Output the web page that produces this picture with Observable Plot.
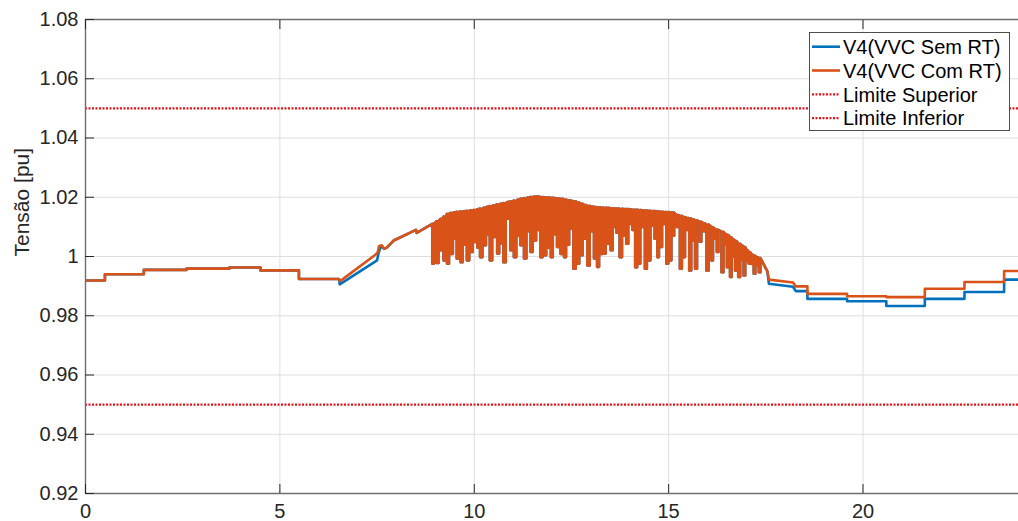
<!DOCTYPE html>
<html><head><meta charset="utf-8">
<script src="https://cdn.jsdelivr.net/npm/d3@7"></script>
<script src="https://cdn.jsdelivr.net/npm/@observablehq/plot@0.6"></script>
<style>
body{margin:0;background:#fff;}
#wrap{position:relative;width:1018px;height:521px;overflow:hidden;background:#fff;font-family:"Liberation Sans",Arial,sans-serif;}
#legend{position:absolute;left:809px;top:32px;}
</style></head><body>
<div id="wrap"><div id="chart"></div><svg id="legend" width="201" height="99"></svg></div>
<script>
// ---- data ----
const xTicks = [0, 5, 10, 15, 20];
const yTicks = [0.92, 0.94, 0.96, 0.98, 1.00, 1.02, 1.04, 1.06, 1.08];
const limitSuperior = 1.05;
const limitInferior = 0.95;
const seriesNames = ["V4(VVC Sem RT)", "V4(VVC Com RT)", "Limite Superior", "Limite Inferior"];

// common part, 0h – 6.5h
const tStart = [0, 0.5, 0.5, 1.5, 1.5, 2.6, 2.6, 3.7, 3.7, 4.5, 4.5, 5.49, 5.49, 6.52];
const vStart = [0.9919, 0.9919, 0.9940, 0.9940, 0.9955, 0.9955, 0.9959, 0.9959, 0.9963, 0.9963, 0.9953, 0.9953, 0.9924, 0.9924];

// morning ramp (the two series differ)
const tRampSem = [6.54, 7.50, 7.54, 7.60, 7.68];
const vRampSem = [0.9906, 0.9987, 1.0012, 1.0035, 1.0026];
const tRampCom = [6.55, 7.45, 7.52, 7.55, 7.62, 7.68];
const vRampCom = [0.9917, 1.0005, 1.0015, 1.0035, 1.0038, 1.0026];

// common rise before the oscillations
const tRise = [7.75, 7.93, 8.50, 8.52, 8.92];
const vRise = [1.0030, 1.0054, 1.0090, 1.0080, 1.0110];

// oscillations (each dip: start, end, lowest value, level before the dip)
const spikeStart = [
  8.92, 9.03, 9.13, 9.21, 9.30, 9.39, 9.48, 9.55, 9.65, 9.74,
  9.81, 9.91, 10.00, 10.08, 10.15, 10.25, 10.33, 10.40, 10.50, 10.59,
  10.68, 10.75, 10.86, 10.93, 11.02, 11.12, 11.19, 11.28, 11.38, 11.45,
  11.54, 11.63, 11.70, 11.80, 11.89, 11.97, 12.06, 12.13, 12.22, 12.31,
  12.40, 12.48, 12.55, 12.65, 12.74, 12.83, 12.91, 13.01, 13.08, 13.16,
  13.25, 13.34, 13.42, 13.51, 13.60, 13.66, 13.74, 13.84, 13.91, 14.00,
  14.07, 14.14, 14.23, 14.31, 14.39, 14.48, 14.57, 14.64, 14.71, 14.79,
  14.87, 14.94, 15.02, 15.10, 15.20, 15.29, 15.38, 15.46, 15.53, 15.61,
  15.68, 15.80, 15.89, 15.97, 16.10, 16.18, 16.24, 16.36, 16.45, 16.50,
  16.58, 16.66, 16.71, 16.79, 16.88, 16.93, 17.01, 17.06, 17.14, 17.19,
  17.27, 17.32];
const spikeEnd = [
  8.96, 9.08, 9.18, 9.27, 9.35, 9.45, 9.52, 9.61, 9.70, 9.78,
  9.87, 9.96, 10.05, 10.12, 10.21, 10.30, 10.37, 10.46, 10.55, 10.64,
  10.72, 10.81, 10.90, 10.98, 11.08, 11.16, 11.24, 11.34, 11.42, 11.50,
  11.59, 11.67, 11.76, 11.85, 11.93, 12.02, 12.10, 12.18, 12.27, 12.36,
  12.44, 12.52, 12.61, 12.70, 12.79, 12.87, 12.97, 13.05, 13.12, 13.21,
  13.30, 13.38, 13.47, 13.56, 13.64, 13.70, 13.80, 13.88, 13.96, 14.04,
  14.11, 14.19, 14.27, 14.35, 14.44, 14.53, 14.61, 14.68, 14.75, 14.83,
  14.91, 14.99, 15.07, 15.14, 15.24, 15.34, 15.42, 15.50, 15.58, 15.65,
  15.73, 15.84, 15.93, 16.03, 16.14, 16.21, 16.28, 16.41, 16.48, 16.54,
  16.62, 16.69, 16.75, 16.84, 16.91, 16.97, 17.04, 17.10, 17.17, 17.23,
  17.30, 17.36];
const spikeLow = [
  0.9976, 0.9978, 1.0021, 0.9987, 0.9976, 1.0009, 1.0060, 0.9993, 0.9981, 1.0040,
  0.9987, 1.0015, 1.0049, 1.0030, 0.9998, 1.0038, 1.0075, 0.9987, 1.0066, 1.0010,
  1.0045, 0.9981, 1.0128, 1.0021, 0.9998, 1.0070, 1.0038, 0.9993, 1.0085, 1.0015,
  1.0054, 1.0090, 0.9998, 1.0004, 1.0030, 0.9998, 1.0075, 1.0032, 1.0009, 0.9998,
  1.0040, 1.0095, 0.9959, 0.9976, 1.0004, 1.0060, 0.9970, 1.0085, 0.9993, 0.9965,
  1.0009, 1.0010, 1.0043, 1.0021, 1.0100, 1.0080, 0.9998, 1.0070, 1.0043, 1.0110,
  1.0090, 0.9964, 0.9976, 1.0100, 0.9959, 0.9987, 1.0105, 1.0060, 0.9998, 1.0032,
  1.0110, 0.9976, 0.9987, 1.0070, 1.0100, 0.9959, 0.9998, 1.0090, 0.9953, 1.0054,
  0.9959, 1.0050, 1.0085, 0.9953, 0.9987, 1.0060, 1.0015, 0.9947, 1.0040, 0.9964,
  0.9931, 1.0000, 0.9953, 0.9931, 0.9990, 0.9936, 0.9985, 0.9976, 0.9975, 0.9942,
  0.9970, 0.9947];
const spikeTop = [
  1.0110, 1.0119, 1.0127, 1.0135, 1.0144, 1.0147, 1.0149, 1.0151, 1.0152, 1.0153,
  1.0154, 1.0156, 1.0157, 1.0160, 1.0162, 1.0165, 1.0168, 1.0170, 1.0173, 1.0176,
  1.0178, 1.0180, 1.0184, 1.0186, 1.0189, 1.0192, 1.0195, 1.0197, 1.0199, 1.0201,
  1.0202, 1.0202, 1.0201, 1.0200, 1.0199, 1.0198, 1.0197, 1.0196, 1.0195, 1.0192,
  1.0190, 1.0188, 1.0186, 1.0182, 1.0178, 1.0174, 1.0171, 1.0169, 1.0167, 1.0166,
  1.0165, 1.0164, 1.0164, 1.0163, 1.0162, 1.0162, 1.0161, 1.0160, 1.0160, 1.0159,
  1.0158, 1.0158, 1.0157, 1.0156, 1.0155, 1.0154, 1.0153, 1.0153, 1.0152, 1.0151,
  1.0150, 1.0150, 1.0149, 1.0148, 1.0140, 1.0137, 1.0133, 1.0130, 1.0128, 1.0125,
  1.0122, 1.0117, 1.0112, 1.0108, 1.0099, 1.0093, 1.0090, 1.0083, 1.0076, 1.0072,
  1.0064, 1.0056, 1.0052, 1.0043, 1.0036, 1.0032, 1.0020, 1.0014, 1.0006, 1.0002,
  0.9997, 0.9995];

// evening (the two series differ)
const tTail = [17.54, 17.58, 18.20, 18.27, 18.57, 18.57, 19.59, 19.59, 20.60, 20.60, 21.59, 21.59, 22.61, 22.61, 23.63, 23.63, 24];
const vTailSem = [0.9950, 0.9908, 0.9898, 0.9883, 0.9883, 0.9857, 0.9857, 0.9849, 0.9849, 0.9833, 0.9833, 0.9857, 0.9857, 0.9880, 0.9880, 0.9922, 0.9922];
const vTailCom = [0.9950, 0.9922, 0.9912, 0.9899, 0.9899, 0.9874, 0.9874, 0.9866, 0.9866, 0.9863, 0.9863, 0.9891, 0.9891, 0.9914, 0.9914, 0.9951, 0.9951];

// ---- build tables ----
const pts = (ts, vs) => ts.map((t, i) => ({t, v: vs[i]}));
const spikePts = spikeStart.flatMap((t0, i) => [
  {t: t0, v: spikeTop[i]}, {t: t0, v: spikeLow[i]},
  {t: spikeEnd[i], v: spikeLow[i]}, {t: spikeEnd[i], v: spikeTop[i]}
]);
const startPts = pts(tStart, vStart);
const midPts = [...pts(tRise, vRise), ...spikePts];
const semRT = [...startPts, ...pts(tRampSem, vRampSem), ...midPts, ...pts(tTail, vTailSem)];
const comRT = [...startPts, ...pts(tRampCom, vRampCom), ...midPts, ...pts(tTail, vTailCom)];

const BLUE = "#0072BD", ORANGE = "#D95319", RED = "#E0141C";
const AX = "#262626";
const fmt = d => d3.format("~g")(+d.toFixed(2));

const chart = Plot.plot({
  width: 1018, height: 521,
  marginLeft: 85, marginRight: 0, marginTop: 19, marginBottom: 28,
  style: {fontFamily: '"Liberation Sans", Arial, sans-serif', background: "#fff", color: AX},
  x: {domain: [0, 24]},
  y: {domain: [0.92, 1.08]},
  marks: [
    Plot.gridX(xTicks, {stroke: "#dedede", strokeOpacity: 1}),
    Plot.gridY(yTicks, {stroke: "#dedede", strokeOpacity: 1}),
    Plot.ruleY([limitSuperior, limitInferior], {stroke: RED, strokeWidth: 2.2, strokeDasharray: "2,1.5"}),
    Plot.lineY(semRT, {x: "t", y: "v", stroke: BLUE, strokeWidth: 2.6, clip: true}),
    Plot.lineY(comRT, {x: "t", y: "v", stroke: ORANGE, strokeWidth: 2.6, clip: true}),
    Plot.ruleX([0], {stroke: "#6e6e6e", strokeWidth: 1.4}),
    Plot.ruleY([0.92, 1.08], {stroke: "#6e6e6e", strokeWidth: 1.4}),
    Plot.axisX({ticks: xTicks, tickSize: -9, tickPadding: 19, tickFormat: fmt, fontSize: 20, label: null, color: AX}),
    Plot.axisX({anchor: "top", ticks: xTicks, tickSize: -9, tickFormat: () => "", label: null, color: AX}),
    Plot.axisY({ticks: yTicks, tickSize: -9, tickPadding: 16, tickFormat: fmt, fontSize: 20, label: null, color: AX}),
    Plot.text(["Tensão [pu]"], {frameAnchor: "left", rotate: -90, dx: -63, fontSize: 21, fill: AX})
  ]
});
document.getElementById("chart").append(chart);

// ---- legend (overlaid inside the plot area, top-right) ----
const leg = d3.select("#legend");
leg.append("rect").attr("x", 0.5).attr("y", 0.5).attr("width", 200).attr("height", 98)
  .attr("fill", "#fff").attr("stroke", "#4d4d4d").attr("stroke-width", 1);
const legStyles = [
  {stroke: BLUE, dash: null, w: 2.6},
  {stroke: ORANGE, dash: null, w: 2.6},
  {stroke: RED, dash: "2,1.5", w: 2.2},
  {stroke: RED, dash: "2,1.5", w: 2.2}
];
seriesNames.forEach((name, i) => {
  const cy = 14.7 + i * 23.8;
  const s = legStyles[i];
  leg.append("line").attr("x1", 3).attr("x2", 31).attr("y1", cy).attr("y2", cy)
    .attr("stroke", s.stroke).attr("stroke-width", s.w).attr("stroke-dasharray", s.dash);
  leg.append("text").attr("x", 34).attr("y", cy + 7.2).text(name)
    .attr("font-size", 20).attr("fill", "#000")
    .attr("font-family", '"Liberation Sans", Arial, sans-serif');
});
</script>
</body></html>
